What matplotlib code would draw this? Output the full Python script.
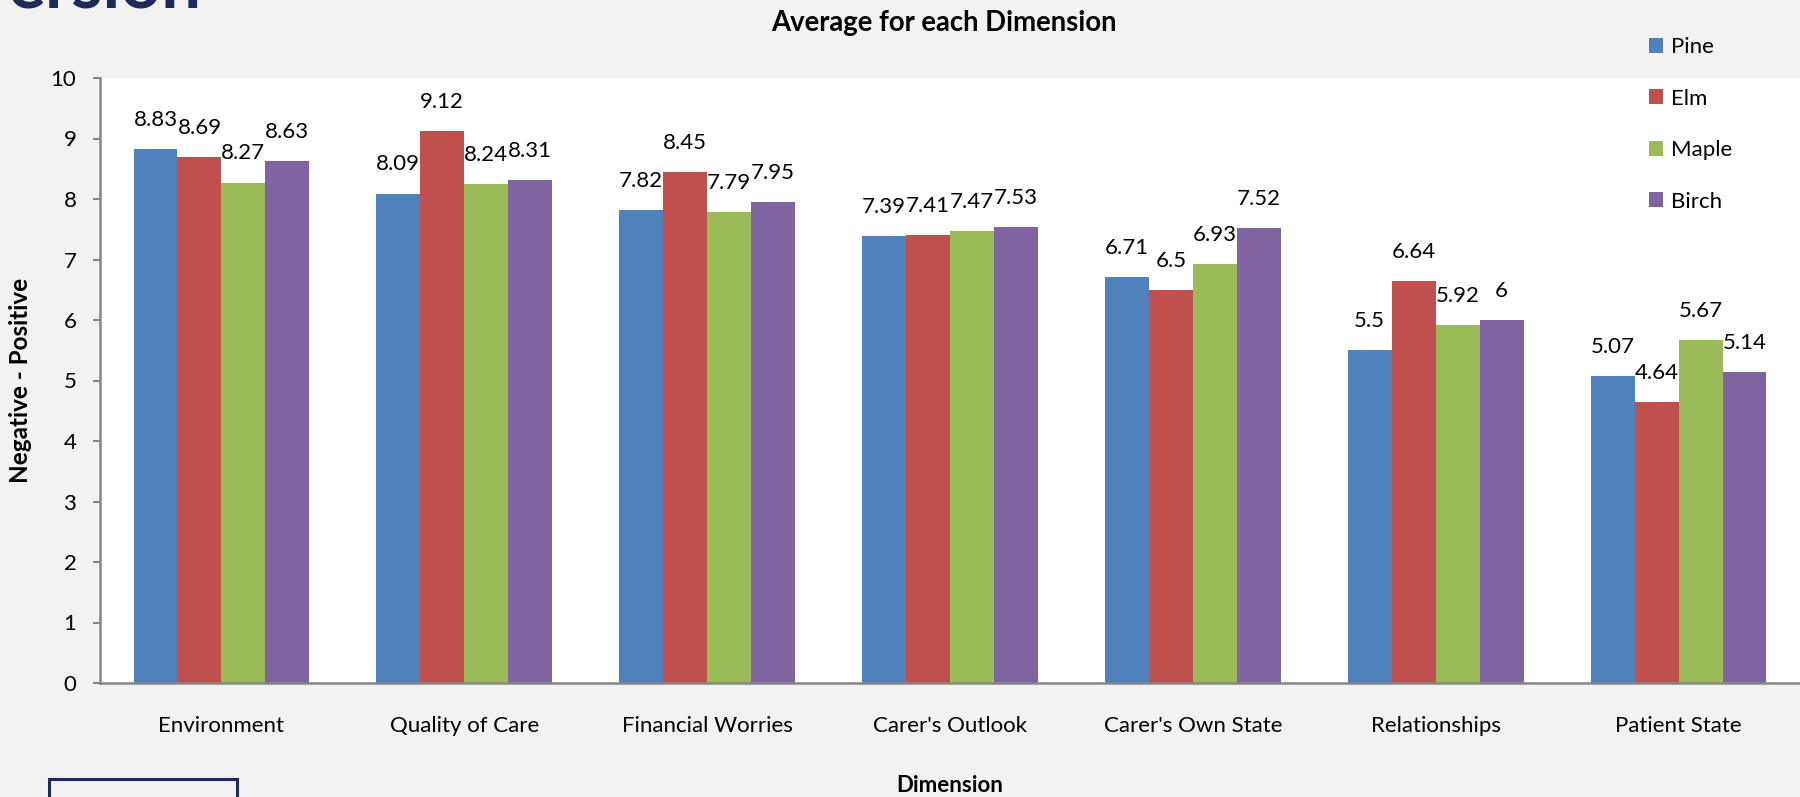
import matplotlib
matplotlib.use("Agg")
import matplotlib.pyplot as plt
import numpy as np
from matplotlib.patches import Rectangle

categories = ["Environment", "Quality of Care", "Financial Worries", "Carer's Outlook",
              "Carer's Own State", "Relationships", "Patient State"]
series_names = ["Pine", "Elm", "Maple", "Birch"]
pine = [8.83, 8.09, 7.82, 7.39, 6.71, 5.5, 5.07]
elm = [8.69, 9.12, 8.45, 7.41, 6.5, 6.64, 4.64]
maple = [8.27, 8.24, 7.79, 7.47, 6.93, 5.92, 5.67]
birch = [8.63, 8.31, 7.95, 7.53, 7.52, 6.0, 5.14]
yticks = [0, 1, 2, 3, 4, 5, 6, 7, 8, 9, 10]

colors = ["#4F81BD", "#C0504D", "#9BBB59", "#8064A2"]
FONT = "Lato"
plt.rcParams['font.family'] = [FONT, 'DejaVu Sans']

W, H = 1800, 797
fig = plt.figure(figsize=(W / 100, H / 100), dpi=100, facecolor="#F2F2F2")
ax = fig.add_axes([100 / W, 1 - 683 / H, 1700 / W, (683 - 78) / H])
ax.set_facecolor("white")

x = np.arange(len(categories))
bw = 0.181
all_series = [pine, elm, maple, birch]
for i, (vals, name, c) in enumerate(zip(all_series, series_names, colors)):
    pos = x + (i - 1.5) * bw
    ax.bar(pos, vals, width=bw, color=c, label=name, edgecolor="none", zorder=2)
    for p, v in zip(pos, vals):
        lab = f"{v:g}"
        ax.annotate(lab, (p, v), xytext=(0, 21), textcoords="offset points",
                    ha="center", va="center", fontsize=16, color="black")

ax.set_xlim(-0.5, len(categories) - 0.5)
ax.set_ylim(0, 10)
ax.set_yticks(yticks)
ax.set_xticks(x)
ax.set_xticklabels(categories, fontsize=16)
ax.tick_params(axis="y", labelsize=16, length=5, width=1.5, color="#868686", pad=12)
ax.tick_params(axis="x", length=0, pad=24)
for s in ["top", "right"]:
    ax.spines[s].set_visible(False)
for s in ["left", "bottom"]:
    ax.spines[s].set_color("#868686")
    ax.spines[s].set_linewidth(1.8)

ax.set_ylabel("Negative - Positive", fontsize=17.5, fontweight="bold", va="center")
ax.yaxis.set_label_coords((21 - 100) / 1700, 0.5)
fig.text(950 / W, 1 - 785 / H, "Dimension", fontsize=16, fontweight="bold",
         ha="center", va="center")
fig.text(944 / W, 1 - 23 / H, "Average for each Dimension", fontsize=19.8,
         fontweight="bold", ha="center", va="center")

fig.legend(loc="upper left", bbox_to_anchor=(1649 / W, 1 - 37 / H), frameon=False,
           fontsize=16, handlelength=0.65, handleheight=0.65, handletextpad=0.35,
           labelspacing=1.42, borderpad=0, borderaxespad=0)

# partially visible heading and box outside the chart
fig.text(8 / W, 1 - 7 / H, "ersion", fontsize=51, fontweight="bold", color="#1C2B5A",
         ha="left", va="baseline")
fig.patches.append(Rectangle((49 / W, -0.05), (237 - 49) / W, (797 - 779) / H + 0.05,
                             transform=fig.transFigure, fill=False,
                             edgecolor="#1C2B5A", linewidth=2.2))

fig.savefig("out.png", dpi=100, facecolor=fig.get_facecolor())
